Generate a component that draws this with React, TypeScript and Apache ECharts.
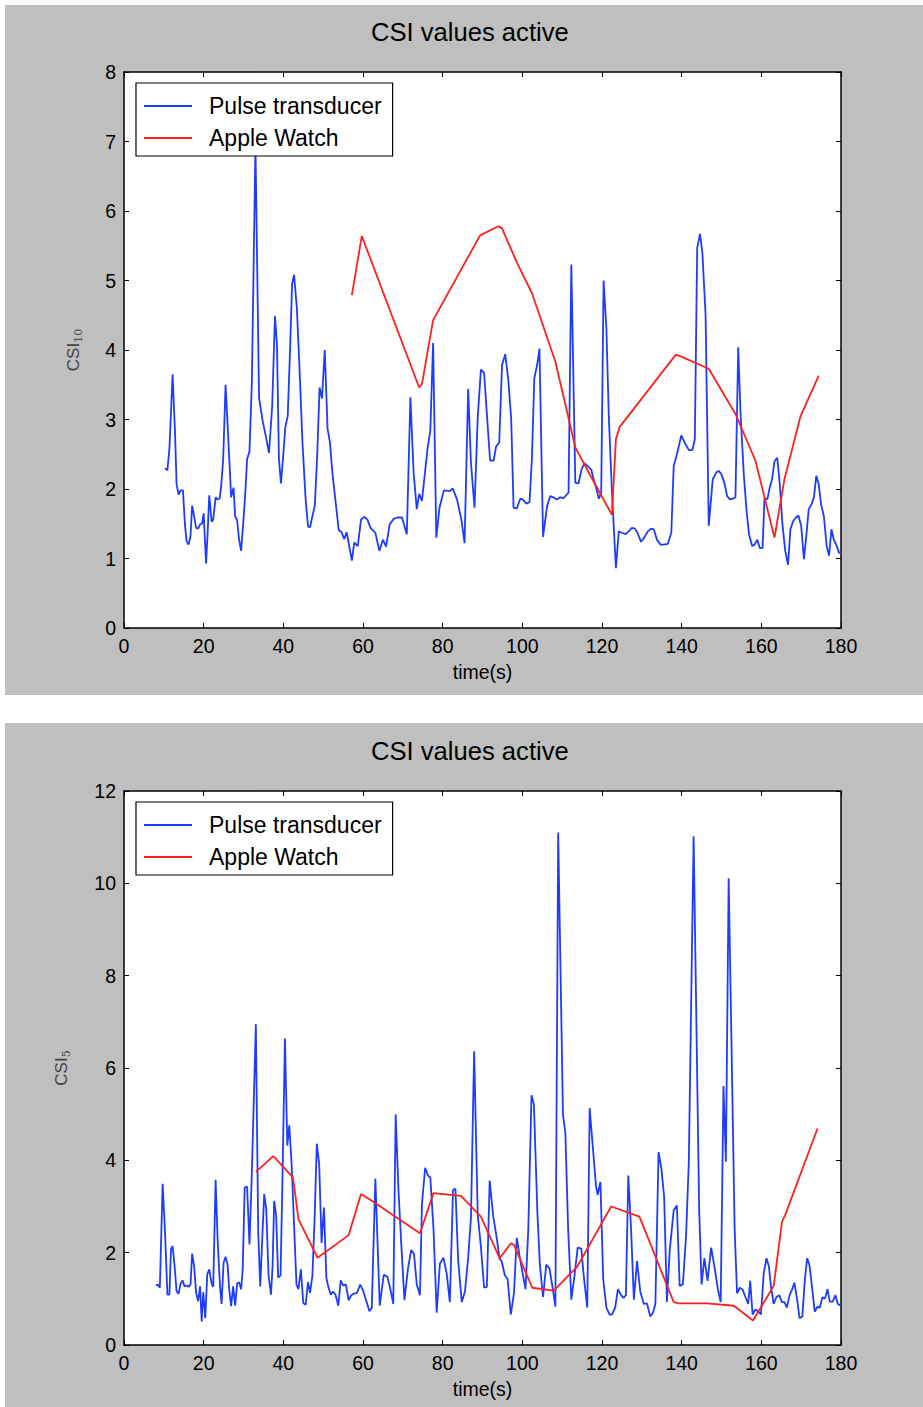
import React, { useEffect, useRef } from "react";
import * as echarts from "echarts";

const FONT = "Liberation Sans, Arial, Helvetica, sans-serif";

const chartTitle = "CSI values active";
const xAxisName = "time(s)";
const seriesNames = ["Pulse transducer", "Apple Watch"];
const xTicks = { min: 0, max: 180, interval: 20 };
const yTicksTop = { min: 0, max: 8, interval: 1 };
const yTicksBottom = { min: 0, max: 12, interval: 2 };

// Top chart (CSI_10): [time(s), value]
const pulseCSI10: number[][] = [
  [10.3, 2.3], [10.9, 2.27], [11.4, 2.58], [12.2, 3.65], [12.8, 2.82], [13.2, 2.07], [13.7, 1.92], [14.2, 1.98],
  [14.8, 1.98], [15.3, 1.49], [15.7, 1.25], [16.2, 1.2], [16.7, 1.32], [17.1, 1.76], [17.6, 1.61], [18.1, 1.44],
  [18.6, 1.43], [19.1, 1.49], [19.6, 1.5], [20.0, 1.65], [20.6, 0.93], [21.0, 1.37], [21.4, 1.91], [22.0, 1.53],
  [22.4, 1.56], [23.0, 1.88], [23.5, 1.85], [24.0, 1.86], [24.4, 2.04], [24.9, 2.43], [25.5, 3.5], [26.1, 2.82],
  [26.9, 1.88], [27.5, 2.02], [27.9, 1.61], [28.4, 1.55], [28.9, 1.27], [29.4, 1.11], [30.0, 1.56], [30.5, 1.99],
  [30.9, 2.43], [31.5, 2.54], [32.1, 3.54], [33.0, 6.95], [33.9, 3.32], [34.8, 2.98], [35.6, 2.76], [36.4, 2.52],
  [37.2, 3.19], [37.9, 4.49], [38.4, 4.07], [38.9, 2.43], [39.4, 2.08], [40.0, 2.5], [40.5, 2.89], [41.1, 3.05],
  [41.7, 4.02], [42.2, 4.95], [42.7, 5.08], [43.4, 4.6], [44.1, 3.68], [44.8, 2.67], [45.6, 1.85], [46.2, 1.46],
  [46.7, 1.45], [47.3, 1.61], [47.9, 1.76], [48.5, 2.48], [49.1, 3.46], [49.7, 3.3], [50.4, 4.0], [51.1, 2.87],
  [51.7, 2.67], [52.3, 2.24], [53.0, 1.88], [53.9, 1.41], [54.6, 1.38], [55.3, 1.28], [55.9, 1.38], [57.2, 0.97],
  [57.8, 1.23], [58.7, 1.18], [59.5, 1.56], [60.4, 1.6], [61.1, 1.56], [61.9, 1.44], [63.1, 1.37], [64.1, 1.11],
  [65.0, 1.27], [65.8, 1.17], [66.7, 1.49], [67.7, 1.57], [68.7, 1.59], [69.8, 1.59], [71.0, 1.35], [71.9, 3.32],
  [72.7, 2.24], [73.5, 1.71], [74.1, 1.93], [74.8, 1.83], [76.2, 2.58], [76.9, 2.84], [77.6, 4.1], [78.4, 1.3],
  [79.2, 1.73], [80.3, 1.98], [81.8, 1.97], [82.5, 2.01], [83.6, 1.85], [84.7, 1.56], [85.5, 1.22], [86.4, 3.44],
  [87.1, 2.38], [88.0, 1.73], [88.8, 3.03], [89.6, 3.72], [90.4, 3.67], [91.3, 2.91], [91.9, 2.41], [92.8, 2.41],
  [93.4, 2.61], [94.2, 2.67], [94.9, 3.78], [95.7, 3.94], [96.5, 3.56], [97.2, 3.01], [97.8, 1.73], [98.6, 1.72],
  [99.5, 1.86], [100.1, 1.85], [101.0, 1.79], [101.8, 1.81], [102.4, 2.43], [103.0, 3.59], [103.7, 3.78], [104.3, 4.02],
  [105.2, 1.31], [106.2, 1.75], [107.0, 1.9], [107.8, 1.88], [108.7, 1.85], [109.5, 1.88], [110.4, 1.87], [111.6, 1.95],
  [112.3, 5.23], [113.3, 2.09], [114.1, 2.08], [114.9, 2.29], [115.6, 2.37], [116.4, 2.33], [117.3, 2.28], [117.9, 2.14],
  [118.6, 2.0], [119.2, 1.86], [119.8, 1.95], [120.4, 5.0], [121.1, 4.31], [121.7, 3.06], [122.5, 1.95], [123.5, 0.86],
  [124.2, 1.39], [125.0, 1.37], [125.9, 1.35], [126.7, 1.39], [127.5, 1.44], [128.3, 1.43], [128.9, 1.37], [129.8, 1.24],
  [130.6, 1.3], [131.5, 1.39], [132.3, 1.43], [133.0, 1.42], [133.8, 1.27], [134.7, 1.2], [135.5, 1.2], [136.5, 1.21],
  [137.4, 1.37], [138.0, 2.33], [138.9, 2.52], [139.9, 2.77], [141.0, 2.64], [141.8, 2.56], [142.7, 2.56], [143.3, 2.72],
  [143.9, 5.47], [144.6, 5.67], [145.2, 5.4], [146.0, 4.51], [146.8, 1.47], [147.8, 2.14], [148.7, 2.24], [149.3, 2.26],
  [150.0, 2.21], [150.8, 2.07], [151.4, 1.9], [152.1, 1.85], [152.9, 1.86], [153.5, 1.88], [154.2, 4.04], [154.8, 3.06],
  [155.6, 2.21], [156.3, 1.68], [156.9, 1.35], [157.7, 1.18], [158.3, 1.2], [159.0, 1.27], [159.6, 1.15], [160.3, 1.15],
  [160.8, 1.87], [161.5, 1.85], [162.1, 2.02], [162.7, 2.14], [163.3, 2.4], [164.0, 2.45], [164.6, 2.09], [165.3, 1.49],
  [166.0, 1.11], [166.7, 0.91], [167.3, 1.42], [168.0, 1.54], [168.7, 1.59], [169.3, 1.62], [170.0, 1.47], [170.7, 0.99],
  [171.3, 1.33], [171.9, 1.71], [172.6, 1.78], [173.2, 1.88], [173.8, 2.19], [174.4, 2.07], [175.0, 1.78], [175.7, 1.61],
  [176.4, 1.18], [177.0, 1.04], [177.6, 1.42], [178.2, 1.27], [178.8, 1.2], [179.6, 1.07],
];

const watchCSI10: number[][] = [
  [57.2, 4.79], [59.7, 5.64], [74.1, 3.46], [74.8, 3.51], [77.6, 4.43], [89.4, 5.65], [94.0, 5.78], [94.9, 5.75],
  [98.7, 5.25], [102.4, 4.82], [108.3, 3.83], [113.3, 2.6], [117.1, 2.19], [122.5, 1.63], [123.5, 2.72], [124.4, 2.89],
  [138.5, 3.93], [139.3, 3.92], [146.8, 3.73], [153.5, 3.08], [158.5, 2.41], [163.3, 1.3], [165.8, 2.14], [169.8, 3.04],
  [174.4, 3.63],
];

// Bottom chart (CSI_5): [time(s), value]
const pulseCSI5: number[][] = [
  [8.0, 1.29], [8.5, 1.31], [9.0, 1.24], [9.7, 3.49], [10.3, 2.43], [10.9, 1.09], [11.4, 1.09], [11.8, 2.08],
  [12.2, 2.14], [12.7, 1.71], [13.2, 1.16], [13.7, 1.11], [14.2, 1.33], [14.7, 1.4], [15.2, 1.27], [15.7, 1.29],
  [16.2, 1.26], [16.7, 1.31], [17.1, 1.98], [17.6, 1.71], [18.1, 1.13], [18.6, 0.95], [19.1, 1.27], [19.5, 0.51],
  [19.9, 1.14], [20.4, 0.58], [20.9, 1.53], [21.4, 1.64], [22.0, 1.33], [22.4, 1.26], [23.0, 3.58], [23.5, 2.29],
  [24.1, 1.27], [24.5, 0.89], [25.0, 1.78], [25.5, 1.91], [26.0, 1.74], [26.4, 1.21], [26.9, 0.84], [27.4, 1.27],
  [27.9, 0.85], [28.4, 1.33], [28.9, 1.36], [29.4, 1.21], [29.8, 1.64], [30.3, 3.41], [30.9, 3.43], [31.5, 2.18],
  [32.1, 3.74], [33.1, 6.95], [33.7, 2.43], [34.2, 1.27], [34.7, 2.29], [35.2, 3.27], [35.7, 2.95], [36.3, 1.5],
  [36.9, 1.09], [37.3, 1.71], [37.7, 3.12], [38.2, 2.8], [38.7, 1.46], [39.3, 1.51], [39.8, 3.67], [40.4, 6.64],
  [41.0, 4.32], [41.5, 4.76], [42.1, 3.88], [42.7, 2.58], [43.3, 1.31], [43.8, 1.21], [44.4, 1.64], [45.0, 0.91],
  [45.6, 0.87], [46.2, 1.36], [46.7, 1.13], [47.3, 1.5], [47.9, 2.87], [48.4, 4.36], [49.0, 3.92], [49.6, 2.21],
  [50.2, 2.98], [50.8, 1.46], [51.3, 1.26], [51.9, 1.09], [52.5, 1.16], [53.1, 1.09], [53.8, 0.85], [54.4, 1.4],
  [55.0, 1.29], [55.7, 1.31], [56.4, 0.97], [57.0, 1.07], [57.6, 1.11], [58.5, 1.13], [59.3, 1.31], [60.1, 1.16],
  [61.0, 0.91], [61.6, 0.73], [62.2, 0.8], [63.1, 3.6], [64.2, 0.85], [65.2, 1.52], [66.1, 1.48], [66.8, 1.24],
  [67.6, 0.89], [68.2, 5.0], [68.9, 3.36], [69.6, 2.2], [70.4, 0.97], [71.3, 1.66], [72.1, 2.06], [72.8, 1.97],
  [73.5, 1.31], [74.3, 1.08], [74.8, 3.05], [75.6, 3.84], [76.3, 3.67], [76.9, 3.63], [77.7, 2.51], [78.5, 0.7],
  [79.3, 1.76], [80.2, 1.89], [81.0, 1.55], [81.8, 0.93], [82.6, 3.36], [83.2, 3.38], [83.9, 1.82], [84.8, 0.93],
  [85.6, 1.16], [86.4, 1.89], [87.1, 2.75], [87.9, 6.36], [88.8, 2.82], [89.6, 2.13], [90.4, 1.24], [91.1, 1.26],
  [91.8, 3.56], [92.7, 2.78], [93.5, 2.36], [94.3, 1.86], [94.8, 1.82], [95.6, 1.51], [96.3, 1.43], [97.1, 0.66],
  [97.9, 1.12], [98.6, 2.32], [99.3, 1.93], [100.0, 1.59], [100.8, 1.21], [101.5, 2.51], [102.3, 5.41], [102.9, 5.22],
  [103.8, 2.82], [104.4, 1.74], [105.2, 1.04], [106.0, 1.74], [106.8, 1.66], [107.6, 1.24], [108.3, 0.83], [109.0, 11.1],
  [110.2, 4.99], [110.8, 4.6], [111.5, 2.51], [112.3, 0.98], [113.1, 1.51], [113.9, 2.11], [114.8, 2.09], [115.4, 1.51],
  [116.3, 0.81], [116.9, 5.13], [117.8, 4.18], [118.5, 3.44], [118.9, 3.25], [119.6, 3.53], [120.3, 1.43], [121.1, 0.81],
  [121.9, 0.66], [122.5, 0.66], [123.3, 0.81], [124.0, 1.21], [124.8, 1.08], [125.4, 1.02], [126.0, 1.08], [126.6, 3.67],
  [127.3, 2.51], [128.0, 0.98], [128.8, 1.82], [129.6, 1.16], [130.5, 0.89], [131.3, 0.9], [132.1, 0.62], [132.8, 0.7],
  [133.4, 0.89], [134.2, 4.18], [134.9, 3.83], [135.6, 3.21], [136.3, 0.93], [137.0, 2.05], [138.0, 2.92], [138.8, 3.02],
  [139.5, 1.28], [140.3, 1.31], [141.1, 2.36], [141.8, 3.98], [143.0, 11.02], [144.4, 2.9], [145.0, 1.31], [145.7, 1.88],
  [146.5, 1.39], [147.4, 2.11], [148.3, 1.66], [149.1, 1.2], [149.8, 0.93], [150.5, 5.61], [151.1, 3.97], [151.8, 10.11],
  [153.3, 2.51], [153.9, 1.12], [154.6, 1.24], [155.3, 1.2], [156.0, 1.04], [156.7, 0.89], [157.2, 1.39], [157.8, 0.66],
  [158.5, 0.77], [159.2, 0.73], [159.9, 0.66], [160.6, 1.55], [161.3, 1.88], [161.9, 1.7], [162.4, 1.28], [163.1, 0.89],
  [163.8, 1.04], [164.5, 1.08], [165.2, 0.93], [165.8, 0.93], [166.4, 0.81], [167.1, 1.08], [167.7, 1.2], [168.3, 1.35],
  [169.0, 0.97], [169.6, 0.58], [170.3, 0.62], [170.9, 1.39], [171.5, 1.88], [172.1, 1.72], [172.8, 1.2], [173.4, 0.72],
  [174.1, 0.83], [174.7, 0.81], [175.3, 1.03], [176.0, 1.01], [176.6, 1.21], [177.2, 0.94], [177.9, 0.94], [178.6, 1.08],
  [179.2, 0.89], [180.0, 0.85],
];

const watchCSI5: number[][] = [
  [33.1, 3.75], [37.5, 4.09], [42.4, 3.63], [42.7, 3.45], [43.8, 2.72], [48.6, 1.89], [56.4, 2.38], [59.5, 3.27],
  [62.1, 3.13], [74.3, 2.42], [77.7, 3.29], [84.6, 3.23], [89.6, 2.78], [94.3, 1.88], [97.1, 2.2], [97.9, 2.17],
  [102.5, 1.24], [107.9, 1.18], [113.8, 1.7], [122.3, 3.0], [129.4, 2.78], [138.0, 0.93], [139.2, 0.9], [146.4, 0.9],
  [153.1, 0.85], [157.9, 0.53], [163.1, 1.28], [165.2, 2.67], [166.0, 2.82], [174.1, 4.69],
];

const BLUE = "#1e3cff";
const RED = "#ff2020";
const GRAY = "#bfbfbf";
const OFFSET = 719;

function xAxis(gridIndex: number, position: "top" | "bottom") {
  const main = position === "bottom";
  return {
    type: "value",
    gridIndex,
    position,
    ...xTicks,
    axisLine: { show: true, onZero: false, lineStyle: { color: "#000", width: 1.5 } },
    axisTick: { show: true, inside: true, length: 5, lineStyle: { color: "#000", width: 1 } },
    axisLabel: { show: main, margin: 8, color: "#000", fontSize: 19.5, fontFamily: FONT },
    splitLine: { show: false },
    name: main ? xAxisName : "",
    nameLocation: "middle",
    nameGap: 34,
    nameTextStyle: { color: "#000", fontSize: 19.5, fontFamily: FONT },
  };
}

function yAxis(gridIndex: number, position: "left" | "right", ticks: any, sub: string, gap: number) {
  const main = position === "left";
  return {
    type: "value",
    gridIndex,
    position,
    ...ticks,
    axisLine: { show: true, onZero: false, lineStyle: { color: "#000", width: 1.5 } },
    axisTick: { show: true, inside: true, length: 5, lineStyle: { color: "#000", width: 1 } },
    axisLabel: { show: main, margin: 8, color: "#000", fontSize: 19.5, fontFamily: FONT },
    splitLine: { show: false },
    name: main ? `{m|CSI}{s|${sub}}` : "",
    nameLocation: "middle",
    nameRotate: 90,
    nameGap: gap,
    nameTextStyle: {
      color: "#444",
      rich: {
        m: { fontSize: 17, fontFamily: FONT, color: "#444", lineHeight: 22 },
        s: { fontSize: 11, fontFamily: "DejaVu Serif", color: "#444", lineHeight: 12, verticalAlign: "bottom" },
      },
    },
  };
}

function legend(top: number) {
  return {
    show: true,
    orient: "vertical",
    left: 136,
    top,
    padding: [11, 11, 6, 8],
    itemGap: 8,
    itemWidth: 48,
    itemHeight: 2,
    icon: "rect",
    borderColor: "#000",
    borderWidth: 1.2,
    borderRadius: 0,
    backgroundColor: "#fff",
    selectedMode: false,
    data: seriesNames,
    textStyle: { fontSize: 23, fontFamily: FONT, color: "#000", lineHeight: 24, padding: [0, 0, 0, 12] },
  };
}

function title(top: number) {
  return {
    text: chartTitle,
    left: 371,
    top,
    padding: 0,
    textStyle: { fontSize: 25.6, fontWeight: "normal", color: "#000", fontFamily: FONT },
  };
}

function line(name: string, data: number[][], color: string, axisIndex: number) {
  return {
    type: "line",
    name,
    data,
    xAxisIndex: axisIndex,
    yAxisIndex: axisIndex,
    showSymbol: false,
    symbol: "none",
    color,
    itemStyle: { color },
    lineStyle: { color, width: 1.8 },
    z: 3,
  };
}

export default function App() {
  const ref = useRef<HTMLDivElement>(null);
  useEffect(() => {
    if (!ref.current) return;
    const chart = echarts.init(ref.current, null, { renderer: "svg" });
    const option: any = {
      animation: false,
      graphic: [
        { type: "rect", z: -100, silent: true, shape: { x: 5, y: 5, width: 918, height: 690 }, style: { fill: GRAY } },
        { type: "rect", z: -100, silent: true, shape: { x: 5, y: 723, width: 918, height: 684 }, style: { fill: GRAY } },
      ],
      title: [title(19), title(19 + OFFSET)],
      legend: [legend(83), legend(83 + OFFSET)],
      grid: [
        { left: 124, top: 72, width: 717, height: 556, show: true, backgroundColor: "#fff", borderWidth: 0 },
        { left: 124, top: 791, width: 717, height: 554, show: true, backgroundColor: "#fff", borderWidth: 0 },
      ],
      xAxis: [xAxis(0, "bottom"), xAxis(0, "top"), xAxis(1, "bottom"), xAxis(1, "top")],
      yAxis: [
        yAxis(0, "left", yTicksTop, "10", 40),
        yAxis(0, "right", yTicksTop, "10", 40),
        yAxis(1, "left", yTicksBottom, "5", 52),
        yAxis(1, "right", yTicksBottom, "5", 52),
      ],
      series: [
        line(seriesNames[0], pulseCSI10, BLUE, 0),
        line(seriesNames[1], watchCSI10, RED, 0),
        line(seriesNames[0], pulseCSI5, BLUE, 2),
        line(seriesNames[1], watchCSI5, RED, 2),
      ],
    };
    chart.setOption(option);
    return () => chart.dispose();
  }, []);
  return <div ref={ref} style={{ position: "absolute", left: 0, top: 0, width: 923, height: 1407 }} />;
}
